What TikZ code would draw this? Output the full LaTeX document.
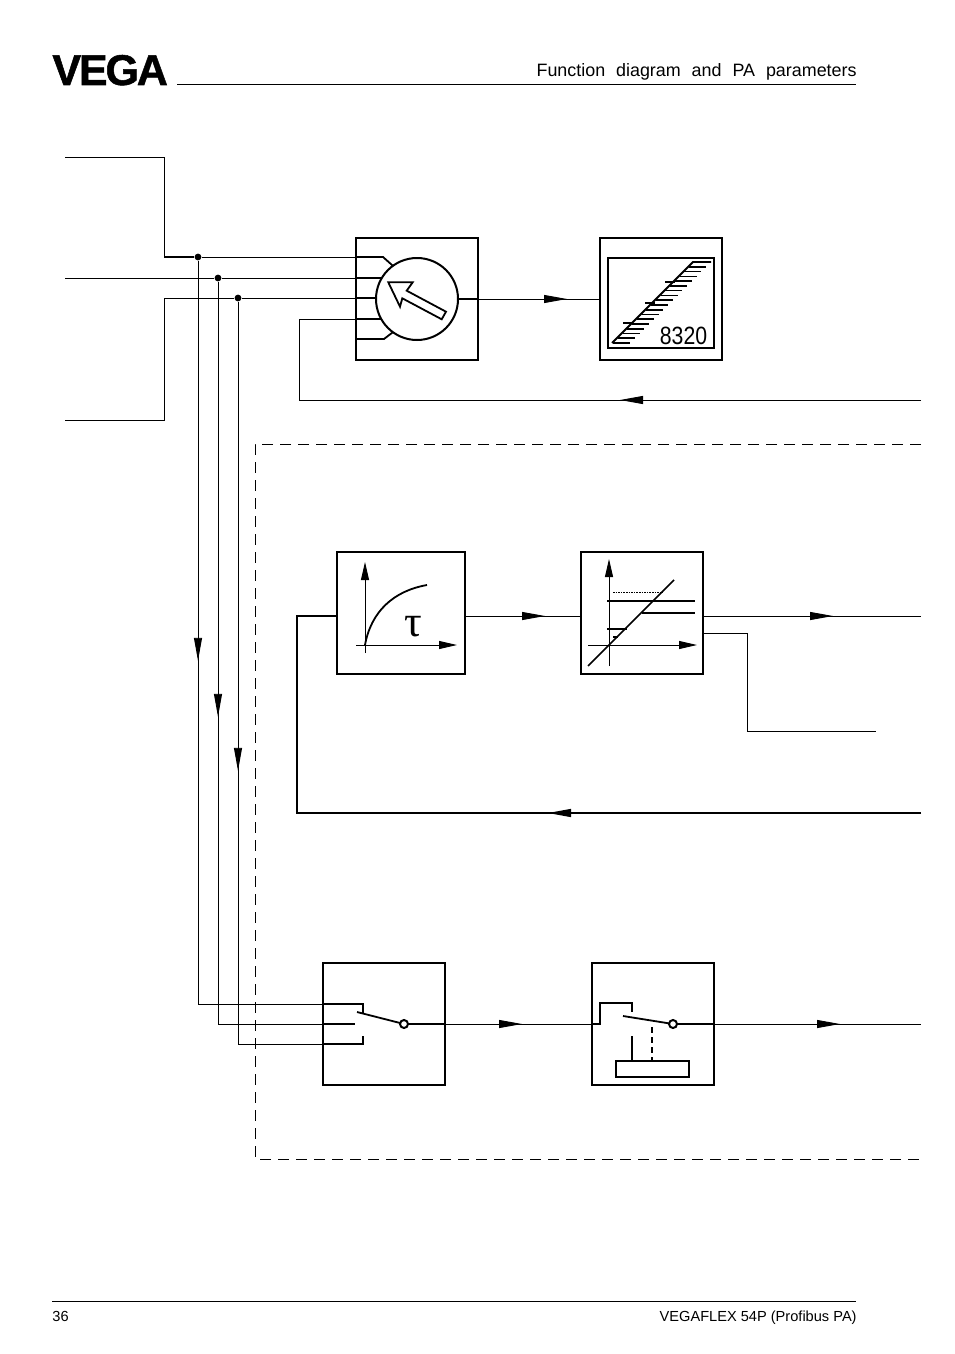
\documentclass[tikz,border=0pt]{standalone}
\usepackage{amsmath}
\usepackage{fontspec}
\setmainfont{Liberation Sans}
\newfontfamily\headfont[WordSpace=2.2]{Liberation Sans}
\newfontfamily\logofont[FakeBold=1.2,LetterSpace=-5]{Liberation Sans Bold}
\newfontfamily\taufont{Liberation Serif}
\usetikzlibrary{arrows.meta,decorations.markings}
\tikzset{
  block/.style={rectangle,draw,line width=1pt,inner sep=0pt,outer sep=0pt,minimum size=61pt},
  wire/.style={line width=.45pt},
  heavy/.style={line width=.9pt},
  flow/.style={postaction={decorate},decoration={markings,mark=at position #1 with {\arrow{Triangle[length=11.5pt,width=4pt]}}}},
  axis/.style={line width=.45pt,-{Triangle[length=9pt,width=4pt]}},
  junction/.style={circle,fill,inner sep=0pt,minimum size=3.4pt},
  contact/.style={circle,draw,line width=1pt,fill=white,inner sep=0pt,outer sep=0pt,minimum size=4pt},
  hatch/.style={line width=.85pt},
}
\begin{document}
\begin{tikzpicture}[x=.5pt,y=-.5pt]
\useasboundingbox (0,0) rectangle (954,1354);
\node[anchor=base west,inner sep=0pt] (logo) at (52,85) {\logofont\fontsize{21.5}{22}\selectfont VEGA};
\node[anchor=base east,inner sep=0pt] (title) at (857,77) {\headfont\fontsize{8.95}{10}\selectfont Function diagram and PA parameters};
\draw[wire] (177,84) -- (856,84);
\draw[wire] (52,1301) -- (856,1301);
\node[anchor=base west,inner sep=0pt] (pagenr) at (52,1321) {\fontsize{7.3}{9}\selectfont 36};
\node[anchor=base east,inner sep=0pt] (model) at (857,1321) {\fontsize{7.3}{9}\selectfont VEGAFLEX 54P (Profibus PA)};

\node[block] (selector) at (417,299) {};
\node[block] (display) at (661,299) {};
\node[circle,draw,line width=1pt,inner sep=0pt,outer sep=0pt,minimum size=41pt] (dial) at (417,299) {};
\node[block,minimum width=64pt] (tau) at (401,613) {};
\node[block] (linear) at (642,613) {};
\node[block] (switcha) at (384,1024) {};
\node[block] (switchb) at (653,1024) {};

\coordinate (ina) at (65,157);
\coordinate (inb) at (65,278);
\coordinate (inc) at (65,420);
\node[junction] (ja) at (198,257) {};
\node[junction] (jb) at (218,278) {};
\node[junction] (jc) at (238,298) {};
\coordinate (outa) at (921,400);
\coordinate (outb) at (921,616);
\coordinate (outc) at (876,731);
\coordinate (outd) at (921,813);
\coordinate (oute) at (921,1024);
\node[contact] (cona) at (404,1024) {};
\node[contact] (conb) at (673,1024) {};

\draw[wire] (ina) -- (164,157) -- (164,257);
\draw[heavy] (164,257) -- (ja);
\draw[wire] (ja) -- (selector.west |- ja);
\draw[heavy] (selector.west |- ja) -- (383,257) -- (dial.126);
\draw[wire] (inb) -- (jb) -- (selector.west |- jb);
\draw[heavy] (selector.west |- jb) -- (dial.149 |- jb);
\draw[wire] (inc) -- (164,420) -- (164,298) -- (jc) -- (selector.west |- jc);
\draw[heavy] (selector.west |- jc) -- (dial.west |- jc);
\draw[wire,flow=150.5pt] (outa) -- (299,400) -- (299,319) -- (selector.west |- 0,319);
\draw[heavy] (selector.west |- 0,319) -- (dial.209 |- 0,319);
\draw[heavy] (selector.west |- 0,339) -- (384,339) -- (dial.234);
\draw[heavy] (dial.east) -- (selector.east);
\draw[wire,flow=44.5pt] (selector.east) -- (display.west);
\draw[wire,flow=200pt] (ja) -- (198,1004) -- (switcha.west |- 0,1004);
\draw[wire,flow=217.5pt] (jb) -- (218,1024) -- (switcha.west);
\draw[wire,flow=234.5pt] (jc) -- (238,1044) -- (switcha.west |- 0,1044);
\draw[heavy] (switcha.west |- 0,1004) -- (363,1004) -- (363,1013);
\draw[line width=.7pt] (switcha.west) -- (355,1024);
\draw[heavy] (switcha.west |- 0,1044) -- (363,1044) -- (363,1036);

\draw[line width=.65pt,flow=186.5pt] (outd) -- (297,813) -- (297,616) -- (tau.west |- 0,616);
\draw[wire,flow=40pt] (tau.east |- 0,616) -- (linear.west |- 0,616);
\draw[wire,flow=65pt] (linear.east |- 0,616) -- (outb);
\draw[wire] (linear.east |- 0,633) -- (747,633) -- (747,731) -- (outc);
\draw[line width=.7pt] (cona) -- (switcha.east);
\draw[wire,flow=38.5pt] (switcha.east) -- (switchb.west);
\draw[line width=.7pt] (conb) -- (switchb.east);
\draw[wire,flow=63pt] (switchb.east) -- (oute);

\draw[wire,dash pattern=on 5.5pt off 3.5pt] (921,444) -- (255,444) -- (255,1159) -- (921,1159);

\draw[line width=.9pt] (388.3,282.3) -- (412.7,282.3) -- (406.7,290.7) -- (446,311.7) -- (441.7,319.3) -- (402.3,298.3) -- (400,306.7) -- cycle;
\node[rectangle,draw,line width=.9pt,inner sep=0pt,outer sep=0pt,minimum width=53pt,minimum height=45pt] (screen) at (661,303) {};
\draw[heavy] (612,343) -- (693,262) -- (711,262);
\foreach \i in {0,...,16} {
  \draw[hatch] ({612+\i*4.76+1},{343-\i*4.76}) -- ({612+\i*4.76+18},{343-\i*4.76});
}
\draw[hatch] (623,323) -- (633,323);
\draw[hatch] (645,303) -- (655,303);
\draw[hatch] (665,282) -- (675,282);
\node[inner sep=0pt] (digits) at (683.5,336) {\scalebox{.85}[1]{\fontsize{12.5}{13}\selectfont 8320}};

\draw[axis] (365,653) -- (365,562);
\draw[axis] (356,645) -- (457,645);
\draw[heavy] (365,645) .. controls (371,612) and (393,591) .. (427,585);
\node[inner sep=0pt] (taulabel) at (413,627) {\taufont\fontsize{22}{22}\selectfont τ};

\draw[axis] (609,666) -- (609,559);
\draw[axis] (588,645) -- (697,645);
\draw[line width=.8pt] (588,666) -- (674,580);
\draw[line width=.4pt,dash pattern=on .8pt off .5pt] (613,592) -- (663,592);
\draw[heavy] (607,601) -- (695,601);
\draw[heavy] (642,613) -- (695,613);
\draw[heavy] (607,629) -- (627,629);
\draw[heavy] (613,637) -- (618,637);

\draw[line width=.9pt] (357,1012) -- (cona);
\draw[line width=.9pt] (switchb.west) -- (600,1024) -- (600,1003) -- (632,1003) -- (632,1012);
\draw[line width=.9pt] (623,1016) -- (conb);
\node[rectangle,draw,line width=1pt,inner sep=0pt,outer sep=0pt,minimum width=36.5pt,minimum height=8pt] (base) at (652.5,1069) {};
\draw[line width=.9pt] (632,1036) -- (632,1061);
\draw[line width=1.2pt,dash pattern=on 3pt off 2pt] (652,1027) -- (652,1061);
\end{tikzpicture}
\end{document}
